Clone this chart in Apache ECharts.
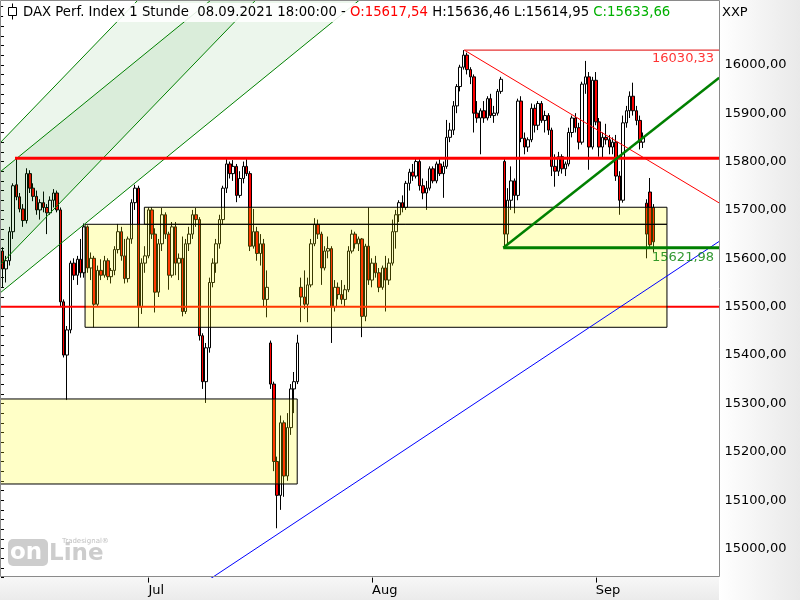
<!DOCTYPE html>
<html><head><meta charset="utf-8">
<script src="https://cdn.jsdelivr.net/npm/echarts@6/dist/echarts.min.js"></script>
<style>html,body{margin:0;padding:0;background:#fff}#c{width:800px;height:600px}</style>
</head><body><div id="c"></div>
<script>
// ---- trading days (3 aggregated sessions per day; first day only last session) ----
const tradingDays = [
 '2021-06-10','2021-06-11','2021-06-14','2021-06-15','2021-06-16','2021-06-17','2021-06-18','2021-06-21','2021-06-22','2021-06-23','2021-06-24','2021-06-25','2021-06-28','2021-06-29','2021-06-30',
 '2021-07-01','2021-07-02','2021-07-05','2021-07-06','2021-07-07','2021-07-08','2021-07-09','2021-07-12','2021-07-13','2021-07-14','2021-07-15','2021-07-16','2021-07-19','2021-07-20','2021-07-21','2021-07-22','2021-07-23','2021-07-26','2021-07-27','2021-07-28','2021-07-29','2021-07-30',
 '2021-08-02','2021-08-03','2021-08-04','2021-08-05','2021-08-06','2021-08-09','2021-08-10','2021-08-11','2021-08-12','2021-08-13','2021-08-16','2021-08-17','2021-08-18','2021-08-19','2021-08-20','2021-08-23','2021-08-24','2021-08-25','2021-08-26','2021-08-27','2021-08-30','2021-08-31',
 '2021-09-01','2021-09-02','2021-09-03','2021-09-06','2021-09-07','2021-09-08'];
const sessionTimes = ['09:00','12:00','15:00'];
const monthNames = ['Jan','Feb','Mar','Apr','May','Jun','Jul','Aug','Sep','Oct','Nov','Dec'];
const emptySlotsRight = 19;

// ---- OHLC values ----
const opens = [15615,15578,15595,15655,15752,15727,15702,15678,15775,15745,15728,15700,15715,15705,15694,15720,15735,15700,15510,15400,
15452,15590,15565,15598,15570,15665,15580,15600,15505,15575,15565,15595,15562,15575,15618,15655,15605,15558,15640,15715,
15745,15500,15590,15605,15700,15650,15530,15630,15690,15650,15565,15665,15590,15600,15490,15630,15650,15690,15680,15440,
15345,15415,15550,15590,15630,15680,15745,15795,15775,15790,15730,15765,15790,15775,15625,15655,15610,15630,15515,15425,
15340,15180,15110,15260,15150,15250,15330,15345,15540,15520,15505,15545,15630,15670,15650,15580,15615,15620,15500,15540,
15525,15515,15535,15615,15650,15630,15640,15480,15625,15555,15590,15570,15540,15580,15555,15590,15655,15690,15715,15705,
15755,15778,15770,15800,15750,15735,15745,15785,15760,15795,15775,15790,15850,15865,15915,15955,15995,16020,15990,15975,
15900,15890,15905,15890,15930,15895,15900,15945,15800,15650,15720,15760,15730,15925,15848,15830,15845,15910,15875,15920,
15885,15895,15865,15790,15780,15810,15785,15795,15860,15890,15870,15840,15960,15975,15830,15968,15882,15830,15850,15845,
15830,15840,15770,15720,15880,15905,15935,15905,15885,15840,15714,15737,15705];
const highs = [15623,15605,15665,15755,15808,15735,15712,15786,15782,15755,15740,15722,15738,15712,15728,15743,15740,15705,15515,15460,
15595,15600,15605,15640,15672,15668,15612,15605,15585,15598,15605,15600,15580,15625,15671,15665,15640,15645,15722,15752,
15750,15600,15625,15705,15705,15662,15640,15704,15695,15655,15675,15675,15610,15645,15640,15665,15700,15704,15685,15445,
15425,15560,15600,15640,15690,15750,15805,15800,15803,15795,15780,15800,15805,15780,15702,15665,15650,15640,15575,15430,
15345,15190,15275,15265,15280,15340,15365,15442,15560,15575,15560,15640,15683,15680,15655,15625,15645,15625,15555,15550,
15555,15545,15625,15659,15655,15645,15642,15630,15705,15600,15605,15580,15585,15605,15600,15680,15700,15720,15730,15760,
15785,15795,15808,15805,15765,15760,15790,15790,15800,15805,15800,15886,15880,15925,15960,16000,16030.33,16025,15995,15980,
15925,15910,15925,15935,15940,15915,15950,15975,15807,15745,15790,15765,15930,15935,15860,15850,15920,15918,15925,15925,
15905,15900,15870,15815,15820,15815,15800,15870,15895,15900,15880,15965,16008,15985,15975,15985,15890,15860,15878,15855,
15850,15855,15780,15895,15915,15945,15963,15915,15895,15860,15722,15766,15712];
const lows = [15540,15550,15585,15640,15720,15695,15665,15672,15735,15718,15690,15680,15695,15650,15690,15705,15695,15500,15395,15307,
15445,15555,15545,15560,15560,15570,15555,15457,15500,15555,15560,15555,15548,15565,15610,15595,15548,15550,15630,15700,
15457,15485,15570,15600,15640,15488,15520,15615,15640,15535,15560,15565,15555,15480,15485,15615,15640,15665,15430,15330,
15301,15405,15540,15570,15620,15670,15735,15765,15760,15716,15725,15755,15770,15615,15620,15595,15585,15500,15478,15330,
15160,15042,15080,15107,15140,15235,15280,15340,15468,15495,15468,15540,15625,15640,15545,15575,15600,15425,15490,15515,
15505,15500,15530,15610,15620,15615,15437,15470,15545,15540,15560,15530,15535,15490,15545,15585,15620,15675,15695,15700,
15740,15760,15765,15740,15722,15700,15740,15755,15755,15770,15725,15785,15840,15855,15900,15945,15990,15980,15960,15860,
15880,15815,15880,15885,15890,15880,15895,15940,15622,15628,15700,15693,15720,15840,15815,15820,15840,15860,15865,15880,
15860,15855,15770,15748,15770,15775,15770,15790,15850,15860,15825,15835,15940,15783,15825,15875,15810,15808,15835,15815,
15815,15760,15690,15715,15870,15890,15895,15875,15825,15828,15600,15620,15612];
const closes = [15578,15595,15655,15750,15727,15702,15678,15775,15745,15728,15700,15715,15705,15694,15720,15735,15700,15510,15400,15452,
15590,15565,15598,15570,15665,15580,15600,15505,15575,15565,15595,15562,15575,15618,15655,15605,15558,15640,15715,15745,
15500,15590,15605,15700,15650,15530,15630,15690,15650,15565,15665,15590,15600,15490,15630,15650,15690,15680,15440,15345,
15415,15550,15590,15630,15680,15745,15795,15775,15790,15730,15765,15790,15775,15625,15655,15610,15630,15515,15540,15340,
15180,15110,15260,15150,15250,15330,15345,15425,15520,15505,15545,15630,15670,15650,15580,15615,15620,15500,15540,15525,
15515,15535,15615,15650,15630,15640,15480,15625,15555,15590,15570,15540,15580,15555,15590,15655,15690,15715,15705,15755,
15778,15770,15800,15750,15735,15745,15785,15760,15795,15775,15790,15850,15865,15915,15955,15995,16020,15990,15975,15900,
15890,15905,15890,15930,15895,15900,15945,15970,15650,15720,15760,15730,15925,15848,15830,15845,15910,15875,15920,15885,
15895,15865,15790,15780,15810,15785,15795,15860,15890,15870,15840,15960,15975,15830,15968,15882,15830,15850,15845,15830,
15840,15770,15720,15880,15905,15935,15905,15885,15840,15850,15650,15628,15634];

// ---- y axis ----
const yMin = 14940, yMax = 16133.9, yTickStep = 20, yLabelStep = 100, yLabelTop = 16000;

// ---- drawn tools (x in bar units on the overlay axis, y in index points) ----
const overlayXMax = 212;
const redResistance = [[4.13, 15807], [212, 15807]];
const redSupport = [[0, 15500], [212, 15500]];
const peakLevel = [[136.7, 16030.33], [212, 16030.33]];
const redDownTrend = [[136.7, 16030.33], [212, 15714]];
const greenSupport = [[148.2, 15621.98], [212, 15621.98]];
const greenUpTrend = [[148.2, 15621.98], [211.9, 15973.3]];
const blueTrend = [[50, 14882.9], [212, 15635.4]];
const channelLine1 = [[-5, 15804.3], [50, 16203.4]];
const channelLine2 = [[-5, 15751.5], [80, 16236.8]];
const channelLine3 = [[-5, 15552.1], [80, 16168.9]];
const channelLine4 = [[-5, 15501.4], [120, 16215.1]];
const channelFillX = [[-5, 15804.3], [80, 16421.1], [80, 16168.9], [-5, 15552.1]];
const channelFillY = [[-5, 15751.5], [120, 16465.2], [120, 16215.1], [-5, 15501.4]];
const zoneA = [[24.8, 15670.3], [196.5, 15670.3], [196.5, 15457.4], [24.8, 15457.4]];
const zoneB = [[42.3, 15705.5], [196.5, 15705.5], [196.5, 15670.3], [42.3, 15670.3]];
const zoneC = [[-1, 15309.2], [87.4, 15309.2], [87.4, 15133.5], [-1, 15133.5]];
const levelLabels = [[210.4, 16030.33, '#ff0000', 2], [210.4, 15621.98, '#008000', 3]];

// ---- build categories ----
const categories = [];
tradingDays.forEach((d, di) => {
  sessionTimes.forEach((t, si) => {
    if (di === 0 && si < 2) return;
    categories.push(d + ' ' + t);
  });
});
for (let k = 0; k < emptySlotsRight; k++) categories.push('pad' + k);
const monthStart = {};
for (let i = 1; i < categories.length; i++) {
  if (categories[i].startsWith('pad')) break;
  const m = categories[i].slice(5, 7);
  const pm = categories[i - 1].slice(5, 7);
  if (m !== pm) monthStart[i] = monthNames[parseInt(m, 10) - 1];
}

const FONT = 'DejaVu Sans';
const fmtNum = v => v.toFixed(2).replace('.', ',');
const candleData = opens.map((o, i) => [o, closes[i], lows[i], highs[i]]);

function lineSeries(data, color, width, z) {
  return { type: 'line', xAxisIndex: 1, yAxisIndex: 0, data: data, showSymbol: false, symbol: 'none',
    lineStyle: { color: color, width: width }, silent: true, z: z, clip: true, animation: false };
}
function polySeries(polys, fill, stroke, z) {
  return { type: 'custom', xAxisIndex: 1, yAxisIndex: 0, clip: true, silent: true, z: z,
    data: polys.map((p, i) => [i, p[0][1]]),
    renderItem: function (params, api) {
      const pts = polys[api.value(0)].map(p => api.coord(p));
      const style = { fill: fill };
      if (stroke) { style.stroke = stroke; style.lineWidth = 1; } else { style.stroke = null; }
      return { type: 'polygon', shape: { points: pts }, style: style };
    }, animation: false };
}

const option = {
  animation: false,
  backgroundColor: '#ffffff',
  grid: { left: 1, top: 0, width: 718.5, height: 577.6, containLabel: false },
  xAxis: [
    { type: 'category', data: categories, boundaryGap: true, gridIndex: 0,
      axisLine: { show: false },
      axisTick: { show: true, alignWithLabel: true, length: 5, interval: (i) => monthStart[i] !== undefined, lineStyle: { color: '#000' } },
      axisLabel: { show: true, interval: (i) => monthStart[i] !== undefined, formatter: (v, i) => monthStart[i] || '',
        align: 'left', margin: 7, color: '#000', fontFamily: FONT, fontSize: 13 },
      splitLine: { show: false } },
    { type: 'value', min: 0, max: overlayXMax, show: false, gridIndex: 0 }
  ],
  yAxis: [{ type: 'value', position: 'right', min: yMin, max: yMax, interval: yTickStep,
    axisLine: { show: false },
    axisTick: { show: true, length: 3, inside: false, lineStyle: { color: '#000' } },
    axisLabel: { margin: 5, color: '#000', fontFamily: FONT, fontSize: 13, showMinLabel: true, showMaxLabel: false,
      formatter: v => (v <= yLabelTop + 1e-6 && Math.abs(v / yLabelStep - Math.round(v / yLabelStep)) < 1e-6 ? fmtNum(v) : '') },
    splitLine: { show: false } }],
  series: [
    { type: 'candlestick', xAxisIndex: 0, yAxisIndex: 0, data: candleData, barWidth: 3, z: 2,
      itemStyle: { color: '#ffffff', color0: '#ff0000', borderColor: '#000000', borderColor0: '#000000', borderWidth: 1 } },
    lineSeries(redSupport, '#ff0000', 2, 3),
    polySeries([channelFillX, channelFillY], 'rgba(0,128,0,0.075)', null, 4),
    polySeries([zoneA, zoneC], 'rgba(255,255,0,0.22)', '#000000', 4),
    polySeries([zoneB], 'rgba(255,255,0,0.22)', '#000000', 4),
    lineSeries(channelLine1, '#008000', 1, 5),
    lineSeries(channelLine2, '#008000', 1, 5),
    lineSeries(channelLine3, '#008000', 1, 5),
    lineSeries(channelLine4, '#008000', 1, 5),
    lineSeries(redResistance, '#ff0000', 3, 6),
    lineSeries(peakLevel, '#e00000', 1, 6),
    lineSeries(redDownTrend, '#ff0000', 1, 6),
    lineSeries(blueTrend, '#0000ff', 1, 6),
    lineSeries(greenSupport, '#008000', 3, 7),
    lineSeries(greenUpTrend, '#008000', 2.5, 7),
    { type: 'scatter', xAxisIndex: 1, yAxisIndex: 0, symbolSize: 0, silent: true, z: 8,
      data: levelLabels.map(l => ({ value: [l[0], l[1]],
        label: { show: true, position: 'inside', align: 'right', verticalAlign: 'top', offset: [0, l[3]],
          color: l[2], fontFamily: FONT, fontSize: 13, formatter: fmtNum(l[1]) } })) }
  ],
  graphic: [
    { type: 'rect', z: -5, shape: { x: 719, y: 0, width: 81, height: 600 },
      style: { fill: new echarts.graphic.LinearGradient(0, 0, 1, 0, [{ offset: 0, color: '#ffffff' }, { offset: 1, color: '#e9e9e9' }]) } },
    { type: 'rect', z: -5, shape: { x: 0, y: 577, width: 719, height: 23 },
      style: { fill: new echarts.graphic.LinearGradient(0, 0, 0, 1, [{ offset: 0, color: '#f7f7f7' }, { offset: 1, color: '#ebebeb' }]) } },
    { type: 'rect', z: 50, shape: { x: 0.5, y: 0.5, width: 719, height: 576 }, style: { fill: null, stroke: '#8a8a8a', lineWidth: 1 } },
    { type: 'rect', z: 50, shape: { x: 3, y: 3, width: 670, height: 19 }, style: { fill: 'rgba(255,255,255,0.88)' } },
    { type: 'line', z: 51, shape: { x1: 12.5, y1: 3.5, x2: 12.5, y2: 19.5 }, style: { stroke: '#000', lineWidth: 1 } },
    { type: 'rect', z: 52, shape: { x: 8.5, y: 7.5, width: 8, height: 8 }, style: { fill: '#fff', stroke: '#000', lineWidth: 1 } },
    { type: 'text', z: 52, x: 23, y: 13,
      style: { text: '{a|DAX Perf. Index 1 Stunde  08.09.2021 18:00:00 - }{r|O:15617,54}{a| H:15636,46 L:15614,95 }{g|C:15633,66}',
        verticalAlign: 'middle', font: '13.25px "DejaVu Sans"',
        rich: { a: { fill: '#000', fontFamily: FONT, fontSize: 13.25 }, r: { fill: '#ff0000', fontFamily: FONT, fontSize: 13.25 },
          g: { fill: '#00b000', fontFamily: FONT, fontSize: 13.25 } } } },
    { type: 'text', z: 52, x: 722, y: 13, style: { text: 'XXP', fill: '#000', font: '13px "DejaVu Sans"', verticalAlign: 'middle' } },
    { type: 'rect', z: 52, shape: { x: 8, y: 539, width: 40, height: 27, r: 5 }, style: { fill: '#cdcdcd' } },
    { type: 'text', z: 53, x: 10, y: 553, style: { text: 'on', fill: '#ffffff', font: 'bold 23px "DejaVu Sans"', verticalAlign: 'middle' } },
    { type: 'text', z: 53, x: 49, y: 554, style: { text: 'Line', fill: '#cdcdcd', font: 'bold 23px "DejaVu Sans"', verticalAlign: 'middle' } },
    { type: 'text', z: 53, x: 62, y: 541, style: { text: 'Tradesignal®', fill: '#c0c0c0', font: '7px "DejaVu Sans"', verticalAlign: 'middle' } }
  ]
};
const chart = echarts.init(document.getElementById('c'), null, { renderer: 'canvas', width: 800, height: 600 });
chart.setOption(option);
</script>
</body></html>
